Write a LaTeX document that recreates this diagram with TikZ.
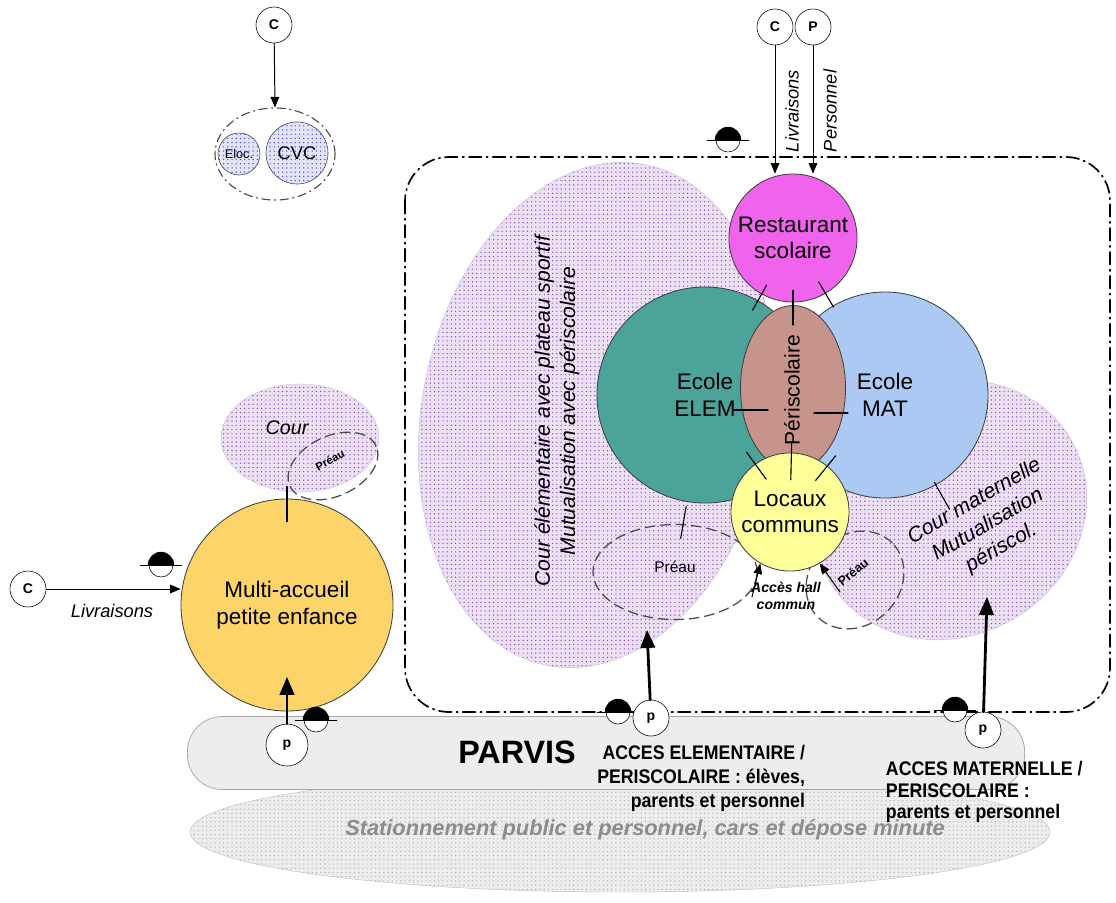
\documentclass[tikz,border=0pt]{standalone}
\usepackage{fontspec}
\setmainfont{Liberation Sans}
\newfontfamily\etroit[FakeStretch=0.9]{Liberation Sans}
\usepackage{tikz}
\usetikzlibrary{calc}
\usetikzlibrary{arrows}
\usetikzlibrary{shapes.geometric}
\usetikzlibrary{patterns}
\definecolor{lavande}{rgb}{0.93,0.88,0.96}
\definecolor{violetpoint}{rgb}{0.5,0.3,0.72}
\definecolor{vertelem}{rgb}{0.3,0.64,0.6}
\definecolor{bleumat}{rgb}{0.67,0.79,0.95}
\definecolor{roseresto}{rgb}{0.94,0.39,0.93}
\definecolor{brunperi}{rgb}{0.78,0.58,0.55}
\definecolor{jaunelocaux}{rgb}{1.,1.,0.6}
\definecolor{orangemulti}{rgb}{0.99,0.83,0.41}
\definecolor{grisparvis}{rgb}{0.93,0.93,0.93}
\definecolor{bleupoint}{rgb}{0.27,0.27,0.9}
\definecolor{gristexte}{rgb}{0.55,0.55,0.55}
\tikzset{
  zone/.style={ellipse,inner sep=0pt,draw=violetpoint!40,line width=0.3pt,preaction={fill=lavande},pattern=dots,pattern color=violetpoint},
  batiment/.style={circle,inner sep=0pt,draw=black!75,line width=0.6pt,align=center,font=\fontsize{16}{19}\selectfont},
  preau/.style={ellipse,inner sep=0pt,draw=black!70,line width=0.9pt,dash pattern=on 7pt off 4pt},
  cadre/.style={line width=1.2pt,dash pattern=on 9pt off 3.5pt on 1pt off 3.5pt,rounded corners=1.1cm},
  entree/.style={circle,draw,fill=white,inner sep=0pt,minimum size=0.9cm,font=\bfseries\fontsize{10}{11}\selectfont},
  petitbleu/.style={circle,draw=black!75,inner sep=0pt,preaction={fill=bleupoint!15},pattern=dots,pattern color=bleupoint},
  fleche/.style={->,line width=0.7pt},
  grossefleche/.style={->,line width=2pt},
  trait/.style={line width=0.8pt}
}
\newcommand{\abri}[1]{
\fill ($(#1)+(0.33cm,0)$) arc[start angle=0,end angle=180,radius=0.33cm] -- cycle;
\draw[fill=white] ($(#1)+(-0.3cm,0)$) arc[start angle=180,end angle=360,radius=0.3cm] -- cycle;
\draw ($(#1)+(-0.52cm,0)$) -- ($(#1)+(0.52cm,0)$);
}

\begin{document}
\begin{tikzpicture}[line cap=round,line join=round,>=triangle 45,x=0.025cm,y=-0.025cm]
\useasboundingbox (0,0) rectangle (1116,902);
% cours
\node[zone,rotate=-11,minimum width=8.7cm,minimum height=12.75cm] (courelem) at (596,415) {};
\node[zone,rotate=30,minimum width=7cm,minimum height=6.3cm] (courmat) at (950,510) {};
\draw[cadre] (405,157) rectangle (1110,712);
\node[preau,minimum width=4.1cm,minimum height=2.375cm] (preauA) at (675,572) {};
\node[preau,rotate=45,minimum width=2.625cm,minimum height=2.25cm] (preauB) at (855,580) {};
% batiments
\node[batiment,fill=vertelem,minimum size=5.4cm] (elem) at (705,395) {Ecole\\ELEM};
\node[batiment,fill=bleumat,minimum size=5.15cm] (mat) at (885,395) {Ecole\\MAT};
\node[batiment,fill=roseresto,minimum size=3.2cm] (resto) at (793,238) {Restaurant\\scolaire};
\node[ellipse,inner sep=0pt,draw=black!75,line width=0.6pt,fill=brunperi,minimum width=2.625cm,minimum height=4.125cm] (peri) at (793,388) {};
\node[rotate=90,font=\fontsize{15}{18}\selectfont] (peritxt) at (792,390) {Périscolaire};
\node[batiment,fill=jaunelocaux,minimum size=2.95cm] (locaux) at (790,512) {Locaux\\communs};
% liaisons
\draw[trait] ($(resto)!0.30!(elem)$) -- ($(resto)!0.46!(elem)$);
\draw[trait] ($(resto)!0.28!(mat)$) -- ($(resto)!0.44!(mat)$);
\draw[trait] ($(resto)!0.35!(peri)$) -- ($(resto)!0.58!(peri)$);
\draw[trait] ($(peri.west)+(-6,22)$) -- ($(peri.west)+(28,22)$);
\draw[trait] ($(peri.east)+(-32,25)$) -- ($(peri.east)+(2,25)$);
\draw[trait] ($(peri)!0.44!(locaux)$) -- ($(peri)!0.74!(locaux)$);
\draw[trait] ($(locaux)!0.28!(elem)$) -- ($(locaux)!0.51!(elem)$);
\draw[trait] ($(locaux)!0.27!(mat)$) -- ($(locaux)!0.48!(mat)$);
\draw[trait] ($(elem)!0.63!(preauA)$) -- ($(elem)!0.81!(preauA)$);
\draw[trait] ($(mat)!0.76!(courmat)$) -- ($(mat)!0.99!(courmat)$);
% textes des cours
\node[rotate=90,align=center,font=\itshape\fontsize{15}{18}\selectfont] (txtelem) at (557,411) {Cour élémentaire avec plateau sportif\\Mutualisation avec périscolaire};
\node[rotate=30,align=center,font=\itshape\fontsize{15}{19}\selectfont] (txtmat) at (988,525) {Cour maternelle\\Mutualisation\\périscol.};
\node[font=\fontsize{11}{12}\selectfont] (txtpreauA) at (675,567) {Préau};
\node[rotate=40,font=\bfseries\fontsize{9}{10}\selectfont] (txtpreauB) at (853,572) {Préau};
\node[align=center,font=\bfseries\itshape\fontsize{10}{12}\selectfont] (hall) at (786,596) {Accès hall\\commun};
\coordinate (halla) at (752,597);
\coordinate (hallb) at (840,592);
\draw[fleche] (halla) -- (locaux.240);
\draw[fleche] (hallb) -- (locaux.300);
% livraisons restaurant
\node[entree] (crest) at (775,27) {C};
\node[entree] (prest) at (813,27) {P};
\draw[fleche] (crest) -- (crest |- resto.north);
\draw[fleche] (prest) -- (prest |- resto.north);
\node[rotate=90,font=\itshape\fontsize{13}{15}\selectfont] (livrest) at (792,111) {Livraisons};
\node[rotate=90,font=\itshape\fontsize{13}{15}\selectfont] (persrest) at (830,111) {Personnel};
\abri{728,140}
% chaufferie
\node[ellipse,inner sep=0pt,draw=black!70,line width=0.8pt,dash pattern=on 6pt off 3pt on 1pt off 3pt,minimum width=3cm,minimum height=2.3cm] (techn) at (275,154) {};
\node[petitbleu,minimum size=1.05cm,font=\fontsize{9}{10}\selectfont] (eloc) at (239,154) {Eloc.};
\node[petitbleu,minimum size=1.55cm,font=\fontsize{13}{14}\selectfont] (cvc) at (297,153) {CVC};
\node[entree] (ctech) at (274,25) {C};
\draw[fleche] (ctech) -- (techn.north);
% multi-accueil
\node[zone,minimum width=3.95cm,minimum height=2.7cm] (courA) at (300,438) {};
\node[font=\itshape\fontsize{14}{16}\selectfont] (txtcourA) at (287,428) {Cour};
\node[preau,rotate=25,minimum width=2.375cm,minimum height=1.5cm] (preauC) at (333,466) {};
\node[rotate=29,font=\bfseries\fontsize{8}{9}\selectfont] (txtpreauC) at (330,460) {Préau};
\node[batiment,fill=orangemulti,minimum size=5.3cm] (multi) at (287,605) {Multi-accueil\\petite enfance};
\draw[trait] ($(multi.north)+(0,-12)$) -- ($(multi.north)+(0,23)$);
\node[entree] (cmulti) at (28,589) {C};
\draw[fleche] (cmulti.east) -- (cmulti.east -| multi.west);
\node[font=\itshape\fontsize{13}{15}\selectfont] (livmulti) at (112,611) {Livraisons};
\abri{161,565}
% stationnement et parvis
\node[ellipse,inner sep=0pt,draw=gray!50,line width=0.3pt,preaction={fill=grisparvis},pattern=dots,pattern color=gray!60,minimum width=21.5cm,minimum height=3cm] (station) at (620,832) {};
\node[font=\bfseries\itshape\fontsize{15.5}{18}\selectfont,text=gristexte] (txtstation) at (645,830) {Stationnement public et personnel, cars et dépose minute};
\node[draw=gray!70,line width=0.5pt,fill=grisparvis,rounded corners=0.875cm,minimum width=20.925cm,minimum height=1.825cm,inner sep=0pt] (parvis) at (606,753) {};
\node[font=\bfseries\fontsize{23}{26}\selectfont] (txtparvis) at (517,752) {PARVIS};
\node[anchor=north east,align=right,font=\etroit\bfseries\fontsize{14}{17}\selectfont] (accelem) at (810,740) {ACCES ELEMENTAIRE /\\PERISCOLAIRE : élèves,\\parents et personnel};
\node[anchor=north west,align=left,font=\etroit\bfseries\fontsize{14}{15.5}\selectfont] (accmat) at (881,756) {ACCES MATERNELLE /\\PERISCOLAIRE :\\parents et personnel};
% entrees pietons
\abri{316,720}
\abri{618,712}
\abri{955,710}
\node[entree,minimum height=1.05cm] (pmulti) at (287,745) {p};
\node[entree] (pelem) at (651,718) {p};
\node[entree] (pmat) at (983,730) {p};
\coordinate (entreemulti) at (287,677);
\coordinate (entreeelem) at (647,630);
\coordinate (entreemat) at (987,597);
\draw[grossefleche] (pmulti) -- (entreemulti);
\draw[grossefleche] (pelem) -- (entreeelem);
\draw[grossefleche] (pmat) -- (entreemat);
\end{tikzpicture}
\end{document}
